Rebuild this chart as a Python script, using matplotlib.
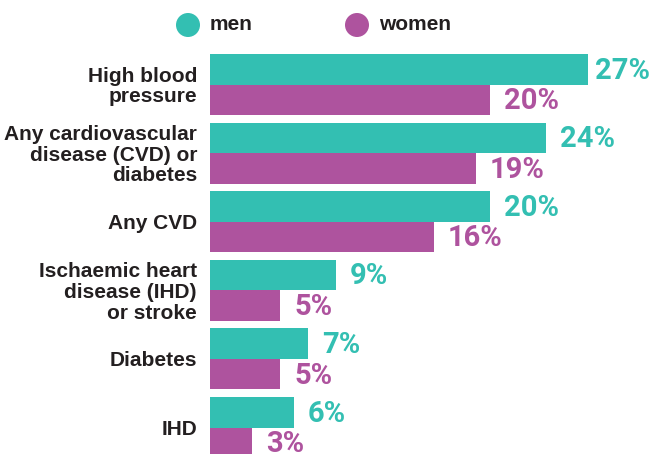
import matplotlib
matplotlib.use("Agg")
import matplotlib.pyplot as plt
from matplotlib.patches import Circle

categories = ["High blood\npressure",
              "Any cardiovascular\ndisease (CVD) or\ndiabetes",
              "Any CVD",
              "Ischaemic heart\ndisease (IHD)\nor stroke",
              "Diabetes",
              "IHD"]
men = [27, 24, 20, 9, 7, 6]
women = [20, 19, 16, 5, 5, 3]
series_names = ["men", "women"]

MEN_C = "#33BFB2"
WOMEN_C = "#AE539E"
TEXT_C = "#231F20"

W, H = 651, 454
fig = plt.figure(figsize=(W / 100, H / 100), dpi=100)

x0 = 210
ax = fig.add_axes([x0 / W, 0, (W - x0) / W, 1])
xmax = (W - x0) / 14.0
ax.set_xlim(0, xmax)
pitch = 68.6
top_center = 84.5
ax.set_ylim((H - top_center) / pitch, -top_center / pitch)
ax.axis("off")

bh = 30.5 / pitch
idx = list(range(len(categories)))
ax.barh([i - bh / 2 for i in idx], men, height=bh, color=MEN_C, linewidth=0)
ax.barh([i + bh / 2 for i in idx], women, height=bh, color=WOMEN_C, linewidth=0)

valfont = dict(family=["Roboto", "DejaVu Sans"], weight="bold", fontsize=21)
gap = 1.0
label_max = xmax - 4.0
for i in idx:
    ax.text(min(men[i] + gap, label_max), i - bh / 2 + 0.02, f"{men[i]}%", color=MEN_C,
            va="center", ha="left", **valfont)
    ax.text(min(women[i] + gap, label_max), i + bh / 2 + 0.02, f"{women[i]}%", color=WOMEN_C,
            va="center", ha="left", **valfont)

for i, c in enumerate(categories):
    y = 1 - (top_center + 2 + i * pitch) / H
    fig.text(197 / W, y, c, ha="right", va="center", color=TEXT_C,
             family=["Liberation Sans", "DejaVu Sans"], weight="bold",
             fontsize=15, linespacing=1.12)

lax = fig.add_axes([0, 0, 1, 1])
lax.set_xlim(0, W)
lax.set_ylim(H, 0)
lax.axis("off")
for (cx, col, name) in [(188, MEN_C, series_names[0]), (357, WOMEN_C, series_names[1])]:
    lax.add_patch(Circle((cx, 25), 12, color=col, linewidth=0))
    lax.text(cx + 22, 25, name, ha="left", va="center", color=TEXT_C,
             family=["Liberation Sans", "DejaVu Sans"], weight="bold", fontsize=15)

fig.savefig("out.png", dpi=100)
